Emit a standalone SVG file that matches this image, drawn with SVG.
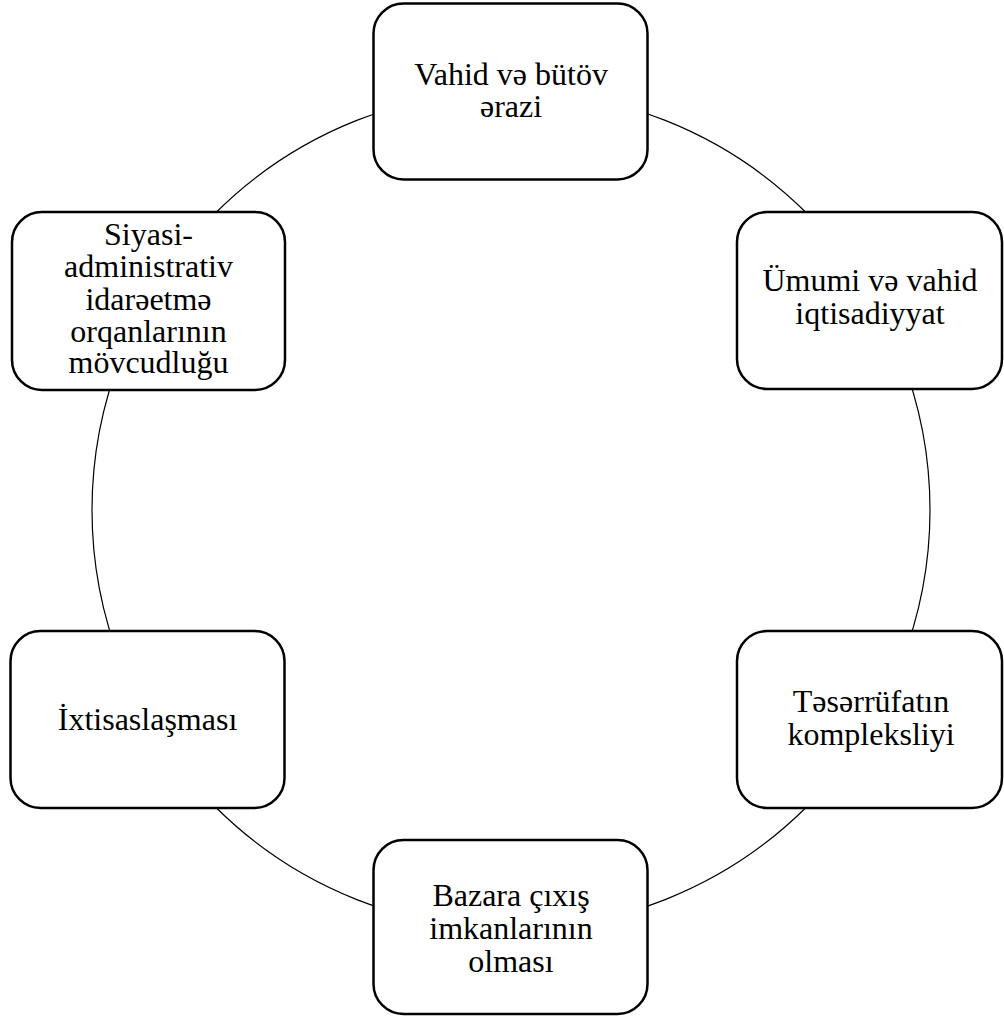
<svg xmlns="http://www.w3.org/2000/svg" width="1004" height="1016" viewBox="0 0 1004 1016">
<style>
.box{fill:#fff;stroke:#000;stroke-width:2.5}
.ring{fill:none;stroke:#000;stroke-width:1.2}
.t{font-family:"Liberation Serif","Times New Roman",serif;font-size:32px;fill:#000;text-anchor:middle}
</style>
<rect width="1004" height="1016" fill="#fff"/>
<g id="connectors">
<circle class="ring" cx="511" cy="510" r="419"/>
</g>
<g id="n1">
<rect class="box" x="373.5" y="3.5" width="274" height="176" rx="30"/>
<text class="t" x="511" y="85">Vahid və bütöv</text>
<text class="t" x="511" y="117">ərazi</text>
</g>
<g id="n2">
<rect class="box" x="737" y="212" width="265" height="177" rx="30"/>
<text class="t" x="870" y="291">Ümumi və vahid</text>
<text class="t" x="870" y="324">iqtisadiyyat</text>
</g>
<g id="n3">
<rect class="box" x="737" y="631" width="265" height="177" rx="30"/>
<text class="t" x="871" y="712">Təsərrüfatın</text>
<text class="t" x="871" y="745">kompleksliyi</text>
</g>
<g id="n4">
<rect class="box" x="373.5" y="840" width="274" height="174" rx="30"/>
<text class="t" x="511" y="906">Bazara çıxış</text>
<text class="t" x="511" y="939">imkanlarının</text>
<text class="t" x="511" y="972">olması</text>
</g>
<g id="n5">
<rect class="box" x="10.5" y="631" width="274" height="177" rx="30"/>
<text class="t" x="147.5" y="730">İxtisaslaşması</text>
</g>
<g id="n6">
<rect class="box" x="12" y="212" width="273" height="178" rx="30"/>
<text class="t" x="148.5" y="245">Siyasi-</text>
<text class="t" x="148.5" y="277">administrativ</text>
<text class="t" x="148.5" y="310">idarəetmə</text>
<text class="t" x="148.5" y="342">orqanlarının</text>
<text class="t" x="148.5" y="373">mövcudluğu</text>
</g>
</svg>
